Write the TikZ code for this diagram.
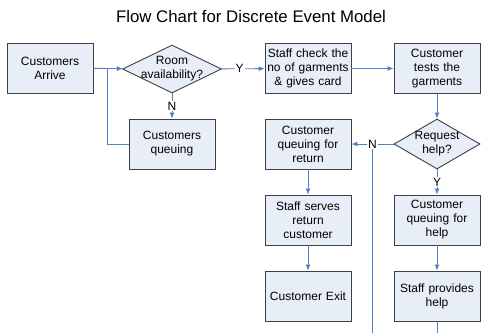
\documentclass[tikz,border=0pt]{standalone}
\usepackage{fontspec}
\setmainfont{Liberation Sans}
\usetikzlibrary{shapes.geometric,arrows.meta}
\definecolor{boxfill}{RGB}{232,238,248}
\definecolor{boxline}{RGB}{64,64,64}
\definecolor{flowline}{RGB}{79,129,199}
\begin{document}
\begin{tikzpicture}[x=1pt,y=-1pt,
    process/.style={rectangle, draw=boxline, fill=boxfill, line width=0.9pt,
      minimum width=86pt, minimum height=50pt, text width=84pt, align=center,
      inner sep=0pt, font=\fontsize{12}{14}\selectfont},
    decision/.style={diamond, draw=boxline, fill=boxfill, line width=0.9pt, inner sep=0pt},
    inside/.style={align=center, font=\fontsize{12}{14}\selectfont},
    flow/.style={draw=flowline, line width=0.9pt},
    arrow/.style={flow, -{Latex[length=6pt,width=5pt]}},
    tag/.style={fill=white, inner sep=1pt, font=\fontsize{12}{14}\selectfont}]
  \useasboundingbox (0,0) rectangle (482,333);
  \node (title) at (251,16) {\fontsize{16.8}{18}\selectfont Flow Chart for Discrete Event Model};
  \node[process] (arrive) at (50,68) {Customers\\Arrive};
  \node[decision, minimum width=99pt, minimum height=48pt,
    label={[inside]center:{Room\\availability?}}] (room) at (172,69) {};
  \node[process] (queue) at (172,144) {Customers\\queuing};
  \node[process] (check) at (308,68.5) {Staff check the\\no of garments\\\& gives card};
  \node[process] (tests) at (437,68.5) {Customer\\tests the\\garments};
  \node[decision, minimum width=86pt, minimum height=50pt,
    label={[inside]center:{Request\\help?}}] (help) at (437,144) {};
  \node[process] (retq) at (308,144) {Customer\\queuing for\\return};
  \node[process] (serves) at (308,220) {Staff serves\\return\\customer};
  \node[process] (exit) at (308,296) {Customer Exit};
  \node[process] (helpq) at (437,220) {Customer\\queuing for\\help};
  \node[process] (provides) at (437,296) {Staff provides\\help};
  \coordinate (merge) at (107,69);
  \coordinate (loopend) at (372,333);
  \coordinate (loopjoin) at (372,144);
  \coordinate (tail) at (437,333);
  \begin{scope}
    \draw[arrow] (arrive) -- (room);
    \draw[flow] (queue) -| (merge);
    \draw[arrow] (room) -- node[tag] {N} (queue);
    \draw[arrow] (room) -- node[tag, pos=0.42] {Y} (check);
    \draw[arrow] (check) -- (tests);
    \draw[arrow] (tests) -- (help);
    \draw[flow] (loopend) -- (loopjoin);
    \draw[arrow] (help) -- node[tag] {N} (retq);
    \draw[arrow] (help) -- node[tag] {Y} (helpq);
    \draw[arrow] (helpq) -- (provides);
    \draw[flow] (provides) -- (tail);
    \draw[arrow] (retq) -- (serves);
    \draw[arrow] (serves) -- (exit);
  \end{scope}
\end{tikzpicture}
\end{document}
